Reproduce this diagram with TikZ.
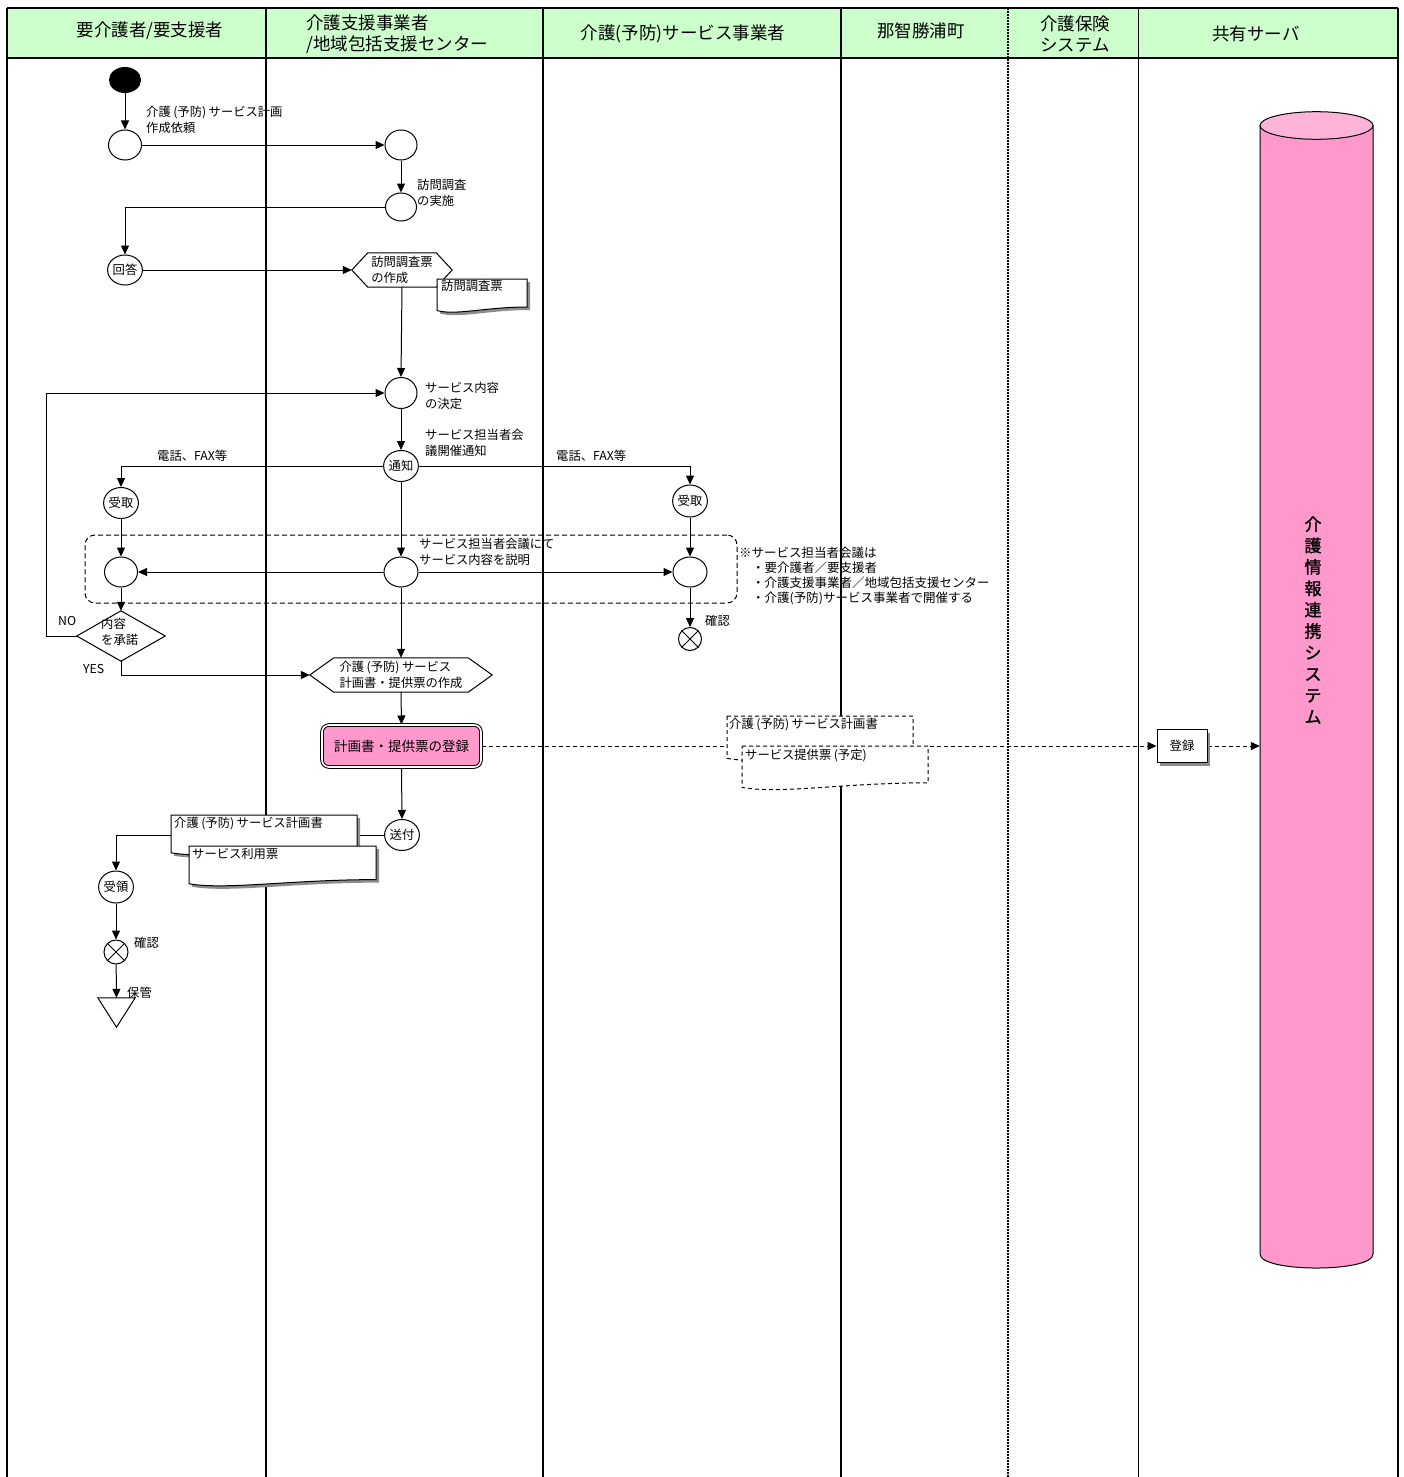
\documentclass[tikz,border=0pt]{standalone}
\usepackage{fontspec}
\setmainfont{Noto Sans CJK JP}[AutoFakeBold=1.5]
\usetikzlibrary{arrows.meta,shapes.geometric,shadows,calc}
\definecolor{hdrgreen}{HTML}{CCFFCC}
\definecolor{pinkc}{HTML}{FF99CC}
\definecolor{pinktop}{HTML}{FFB3D9}
\definecolor{shadowc}{HTML}{8C8C8C}
\pgfdeclarelayer{lanes}
\pgfdeclarelayer{edges}
\pgfsetlayers{lanes,edges,main}
\newcommand\lblfont{\fontsize{12.3}{15.5}\selectfont}
\newcommand\hdrfont{\fontsize{17.5}{21}\selectfont}
\newcommand\yobo{\hspace{2.5pt}(予防)\hspace{2.5pt}}
\newcommand\docpts[4]{(#1,#2) -- ({#1+#3},#2) -- ({#1+#3},{#2+0.8*#4}) .. controls ({#1+0.55*#3},{#2+0.8*#4}) and ({#1+0.2*#3},{#2+1.05*#4}) .. (#1,{#2+0.9*#4}) -- cycle}
\begin{document}
\begin{tikzpicture}[x=1pt,y=-1pt,
  lane/.style={line width=1.7pt},
  lbl/.style={font=\lblfont, align=left, inner sep=0pt},
  hdr/.style={font=\hdrfont, align=left, inner sep=0pt},
  circ/.style={draw, ellipse, fill=white, line width=1pt, inner sep=0pt, minimum width=33pt, minimum height=30pt, font=\lblfont},
  xcirc/.style={draw, circle, fill=white, line width=1pt, inner sep=0pt},
  arr/.style={line width=1pt, -{Triangle[length=9pt,width=8pt]}},
  darr/.style={line width=1pt, dash pattern=on 4pt off 3pt, -{Triangle[length=9pt,width=8pt]}},
  shapeline/.style={line width=1pt},
  doctext/.style={font=\lblfont, align=left, inner sep=0pt, anchor=north west},
  hexn/.style={inner sep=0pt, font=\lblfont, align=left}
]
\useasboundingbox (0,0) rectangle (1403,1477);

% ---------- lanes and header ----------
\begin{pgfonlayer}{lanes}
\fill[hdrgreen] (7,8) rectangle (1398,58);
\draw[lane] (7,8) -- (1398,8);
\draw[lane] (7,58) -- (1398,58);
\foreach \x in {7,266,543,841} {\draw[lane] (\x,8) -- (\x,1477);}
\draw[line width=2.4pt, dash pattern=on 2pt off 1pt] (1008,8) -- (1008,1477);
\draw[line width=1pt] (1138,8) -- (1138,1477);
\draw[line width=2.2pt] (1398,8) -- (1398,1477);
\end{pgfonlayer}

\node[hdr] (hA) at (150,31) {要介護者/要支援者};
\node[hdr, anchor=west] (hB) at (306,34.5) {介護支援事業者\\/地域包括支援センター};
\node[hdr] (hC) at (683,34) {介護(予防)サービス事業者};
\node[hdr] (hD) at (921,31) {那智勝浦町};
\node[hdr, anchor=west] (hE) at (1040,34.5) {介護保険\\システム};
\node[hdr] (hF) at (1256,34) {共有サーバ};

% ---------- nodes ----------
\node[fill=black, ellipse, minimum width=32pt, minimum height=26pt, inner sep=0pt] (start) at (125,80) {};
\node[circ] (A1) at (125,145) {};
\node[circ, minimum width=32pt] (B1) at (401,145) {};
\node[circ, minimum width=31pt, minimum height=28pt] (B2) at (401,207) {};
\node[circ, minimum width=32pt] (ans) at (125,270) {回答};

\node[hexn, minimum width=100pt, minimum height=34pt] (h1) at (402,270) {訪問調査票\\の作成};
\draw[shapeline] (h1.west) -- ([xshift=16pt]h1.north west) -- ([xshift=-16pt]h1.north east) -- (h1.east) -- ([xshift=-16pt]h1.south east) -- ([xshift=16pt]h1.south west) -- cycle;

\fill[shadowc, xshift=3pt, yshift=-3pt] \docpts{437}{279}{90}{35};
\draw[shapeline, fill=white] \docpts{437}{279}{90}{35};
\node[doctext] (doc1) at (441,280) {訪問調査票};

\node[circ, minimum width=32pt, minimum height=31pt] (D1) at (401,393) {};
\node[circ, minimum width=31pt, minimum height=31pt] (N) at (401,466) {通知};
\node[circ, minimum width=33pt, minimum height=31pt] (RL) at (121,503) {受取};
\node[circ, minimum width=34pt, minimum height=32pt] (RR) at (690,501) {受取};
\node[circ, minimum width=34pt] (C) at (401,572) {};
\node[circ] (L) at (121,572) {};
\node[circ, minimum width=34pt] (R) at (690,572) {};
\node[xcirc, minimum size=23pt] (x1) at (690,639) {};
\draw[shapeline] (x1.north west) -- (x1.south east) (x1.north east) -- (x1.south west);

\node[inner sep=0pt, minimum width=88pt, minimum height=50pt] (dia) at (121,636) {};
\draw[shapeline] (dia.west) -- (dia.north) -- (dia.east) -- (dia.south) -- cycle;

\node[hexn, minimum width=182pt, minimum height=34pt] (h2) at (401,675) {介護\yobo サービス\\計画書・提供票の作成};
\draw[shapeline] (h2.west) -- ([xshift=24pt]h2.north west) -- ([xshift=-24pt]h2.north east) -- (h2.east) -- ([xshift=-24pt]h2.south east) -- ([xshift=24pt]h2.south west) -- cycle;

\node[draw, line width=1pt, double=white, double distance=1.6pt, rounded corners=7pt, fill=pinkc, minimum width=159pt, minimum height=42pt, inner sep=0pt, font=\fontsize{13.5}{16}\selectfont] (reg1) at (401.5,746) {計画書・提供票の登録};

\draw[shapeline, fill=white, dash pattern=on 4pt off 3pt] \docpts{727}{716}{186}{47};
\node[doctext] (dm1) at (729,718) {介護\yobo サービス計画書};
\draw[shapeline, fill=white, dash pattern=on 4pt off 3pt] \docpts{742}{746}{186}{46};
\node[doctext] (dm2) at (745,749) {サービス提供票\hspace{2.5pt}(予定)};

\node[draw, fill=white, line width=1pt, minimum width=50pt, minimum height=33pt, inner sep=0pt, font=\lblfont, drop shadow={shadow xshift=3pt, shadow yshift=-3pt, fill=shadowc, opacity=1}] (reg) at (1182,746) {登録};

% cylinder
\node[inner sep=0pt, minimum width=113pt, minimum height=1128pt] (cyl) at (1316.5,689.75) {};
\fill[pinkc] (1260,125.5) -- (1260,1254) .. controls (1260,1272.7) and (1373,1272.7) .. (1373,1254) -- (1373,125.5) -- cycle;
\draw[line width=1pt] (1260,125.5) -- (1260,1254) .. controls (1260,1272.7) and (1373,1272.7) .. (1373,1254) -- (1373,125.5);
\filldraw[fill=pinktop, line width=1pt] (1316.5,125.5) ellipse [x radius=56.5pt, y radius=13.8pt];
\node[font=\fontsize{17}{21.4}\selectfont\bfseries, align=center, inner sep=0pt] (cyltext) at (1313,620) {介\\護\\情\\報\\連\\携\\シ\\ス\\テ\\ム};

\node[circ, minimum width=32pt, minimum height=31pt] (send) at (402,835) {送付};

\fill[shadowc, xshift=3pt, yshift=-3pt] \docpts{171}{815}{186}{42};
\draw[shapeline, fill=white] \docpts{171}{815}{186}{42};
\node[doctext] (dA) at (174,817) {介護\yobo サービス計画書};
\fill[shadowc, xshift=3pt, yshift=-3pt] \docpts{189}{846}{187}{42};
\draw[shapeline, fill=white] \docpts{189}{846}{187}{42};
\node[doctext] (dB) at (192,848) {サービス利用票};

\node[circ, minimum width=34pt, minimum height=32pt] (recv) at (116,887) {受領};
\node[xcirc, minimum size=24pt] (x2) at (116,952) {};
\draw[shapeline] (x2.north west) -- (x2.south east) (x2.north east) -- (x2.south west);
\node[inner sep=0pt, minimum width=37pt, minimum height=29pt] (tri) at (116.5,1012.5) {};
\draw[shapeline] (tri.north west) -- (tri.north east) -- (tri.south) -- cycle;

% ---------- labels ----------
\node[lbl, anchor=west] (t1) at (146,120) {介護\yobo サービス計画\\作成依頼};
\node[lbl, anchor=west] (t2) at (417,193) {訪問調査\\の実施};
\node[lbl, anchor=west] (t4) at (425,396) {サービス内容\\の決定};
\node[lbl, anchor=west] (t5) at (425,443) {サービス担当者会\\議開催通知};
\node[lbl, anchor=west] (t6) at (157,456) {電話、FAX等};
\node[lbl, anchor=west] (t7) at (556,456) {電話、FAX等};
\node[lbl, anchor=west] (t8) at (419,552) {サービス担当者会議にて\\サービス内容を説明};
\node[lbl, anchor=west, font=\fontsize{12.5}{15.3}\selectfont] (t9) at (739,576) {※サービス担当者会議は\\\hspace*{13pt}・要介護者／要支援者\\\hspace*{13pt}・介護支援事業者／地域包括支援センター\\\hspace*{13pt}・介護(予防)サービス事業者で開催する};
\node[lbl, anchor=west] (t10) at (705,621) {確認};
\node[lbl, anchor=west] (t11) at (58,621) {NO};
\node[lbl, anchor=west] (t12) at (83,669) {YES};
\node[lbl, anchor=west] (t13) at (101,632) {内容\\を承諾};
\node[lbl, anchor=west] (t14) at (134,943) {確認};
\node[lbl, anchor=west] (t15) at (127,993) {保管};

% ---------- connectors ----------
\begin{pgfonlayer}{edges}
\node[draw, line width=1pt, dash pattern=on 5pt off 3pt, rounded corners=10pt, minimum width=652pt, minimum height=68pt, inner sep=0pt] (grp) at (411,569) {};
\coordinate (loopx) at (46,636);
\draw[arr] (start) -- (A1);
\draw[arr] (A1) -- (B1);
\draw[arr] (B1) -- (B2);
\draw[arr] (B2.west) -| (ans.north);
\draw[arr] (ans) -- (h1.west);
\draw[arr] (h1.south) -- (D1.north);
\draw[arr] (D1) -- (N);
\draw[arr] (N.west) -| (RL.north);
\draw[arr] (N.east) -| (RR.north);
\draw[arr] (N) -- (C);
\draw[arr] (RL) -- (L);
\draw[arr] (RR) -- (R);
\draw[arr] (C) -- (L);
\draw[arr] (C) -- (R);
\draw[arr] (R) -- (x1);
\draw[arr] (L) -- (dia.north);
\draw[arr] (dia.west) -- (loopx) |- (D1.west);
\draw[arr] (dia.south) |- (h2.west);
\draw[arr] (C) -- (h2.north);
\draw[arr] (h2.south) -- (reg1.north);
\draw[darr] (reg1.east) -- (reg.west);
\draw[darr] (reg.east) -- (reg.east -| cyl.west);
\draw[arr] (reg1.south) -- (send.north);
\draw[arr] (send.west) -| (recv.north);
\draw[arr] (recv) -- (x2);
\draw[arr] (x2) -- (tri.north);
\end{pgfonlayer}
\end{tikzpicture}
\end{document}
